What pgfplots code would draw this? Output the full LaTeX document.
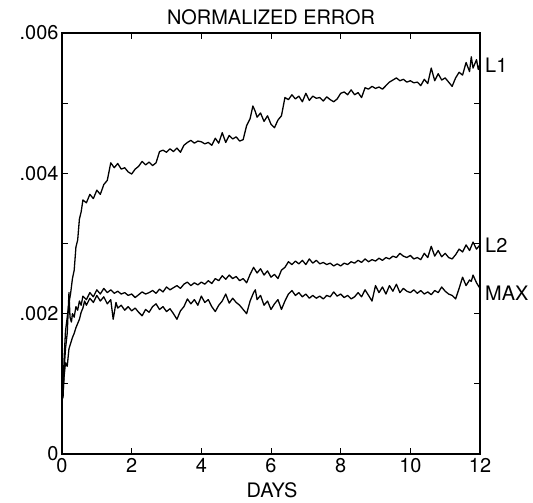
\documentclass[border=0pt]{standalone}
\usepackage{fontspec}
\setmainfont{TeX Gyre Heros}
\usepackage{pgfplots}
\usepackage{pgfplotstable}
\pgfplotsset{compat=1.18}

\pgfplotstableread{
d v
0.00 1.00e-3
0.03 0.90e-3
0.06 1.35e-3
0.10 1.75e-3
0.15 1.95e-3
0.20 2.15e-3
0.25 2.30e-3
0.30 2.50e-3
0.35 2.62e-3
0.40 2.95e-3
0.45 3.05e-3
0.50 3.35e-3
0.55 3.45e-3
0.60 3.62e-3
0.70 3.58e-3
0.80 3.70e-3
0.90 3.64e-3
1.00 3.76e-3
1.10 3.70e-3
1.20 3.84e-3
1.30 3.90e-3
1.40 4.15e-3
1.50 4.08e-3
1.60 4.14e-3
1.70 4.06e-3
1.80 4.08e-3
1.90 4.02e-3
2.00 3.99e-3
2.10 4.06e-3
2.20 4.10e-3
2.30 4.17e-3
2.40 4.12e-3
2.50 4.16e-3
2.60 4.11e-3
2.70 4.15e-3
2.80 4.31e-3
2.90 4.33e-3
3.00 4.30e-3
3.10 4.35e-3
3.20 4.31e-3
3.30 4.36e-3
3.40 4.30e-3
3.50 4.40e-3
3.60 4.44e-3
3.70 4.47e-3
3.80 4.43e-3
3.90 4.46e-3
4.00 4.45e-3
4.10 4.42e-3
4.20 4.44e-3
4.30 4.40e-3
4.40 4.50e-3
4.50 4.43e-3
4.60 4.58e-3
4.70 4.44e-3
4.80 4.54e-3
4.90 4.49e-3
5.00 4.52e-3
5.10 4.46e-3
5.20 4.48e-3
5.30 4.68e-3
5.40 4.78e-3
5.48 4.96e-3
5.55 4.88e-3
5.60 4.80e-3
5.70 4.86e-3
5.80 4.74e-3
5.90 4.82e-3
6.00 4.70e-3
6.10 4.65e-3
6.20 4.76e-3
6.30 4.82e-3
6.40 5.08e-3
6.50 5.05e-3
6.60 5.12e-3
6.70 5.06e-3
6.80 5.10e-3
6.90 5.02e-3
7.00 5.14e-3
7.10 5.04e-3
7.20 5.10e-3
7.30 5.07e-3
7.40 5.08e-3
7.50 5.03e-3
7.60 5.09e-3
7.70 5.05e-3
7.80 5.02e-3
7.90 5.06e-3
8.00 5.14e-3
8.10 5.16e-3
8.20 5.12e-3
8.30 5.19e-3
8.40 5.12e-3
8.50 5.15e-3
8.60 5.08e-3
8.70 5.22e-3
8.80 5.20e-3
8.90 5.24e-3
9.00 5.21e-3
9.10 5.23e-3
9.20 5.20e-3
9.30 5.25e-3
9.40 5.30e-3
9.50 5.33e-3
9.60 5.36e-3
9.70 5.32e-3
9.80 5.34e-3
9.90 5.30e-3
10.00 5.32e-3
10.10 5.29e-3
10.20 5.30e-3
10.30 5.25e-3
10.40 5.34e-3
10.50 5.28e-3
10.60 5.50e-3
10.70 5.32e-3
10.80 5.42e-3
10.90 5.33e-3
11.00 5.36e-3
11.10 5.30e-3
11.20 5.24e-3
11.30 5.36e-3
11.40 5.44e-3
11.50 5.40e-3
11.60 5.58e-3
11.70 5.45e-3
11.75 5.66e-3
11.80 5.50e-3
11.90 5.62e-3
11.95 5.48e-3
12.00 5.56e-3
}\Lone

\pgfplotstableread{
d v
0.00 1.00e-3
0.03 0.80e-3
0.06 1.20e-3
0.10 1.50e-3
0.15 1.72e-3
0.20 2.30e-3
0.23 1.95e-3
0.27 1.88e-3
0.30 2.00e-3
0.35 1.95e-3
0.40 2.10e-3
0.45 2.05e-3
0.50 2.18e-3
0.55 2.12e-3
0.60 2.25e-3
0.70 2.20e-3
0.80 2.30e-3
0.90 2.24e-3
1.00 2.34e-3
1.10 2.28e-3
1.20 2.36e-3
1.30 2.30e-3
1.40 2.34e-3
1.50 2.29e-3
1.60 2.32e-3
1.70 2.28e-3
1.80 2.30e-3
1.90 2.26e-3
2.00 2.28e-3
2.10 2.23e-3
2.20 2.27e-3
2.30 2.31e-3
2.40 2.28e-3
2.50 2.30e-3
2.60 2.33e-3
2.70 2.29e-3
2.80 2.35e-3
2.90 2.31e-3
3.00 2.38e-3
3.10 2.34e-3
3.20 2.37e-3
3.30 2.40e-3
3.40 2.36e-3
3.50 2.42e-3
3.60 2.45e-3
3.70 2.40e-3
3.80 2.44e-3
3.90 2.41e-3
4.00 2.45e-3
4.10 2.42e-3
4.20 2.47e-3
4.30 2.43e-3
4.40 2.50e-3
4.50 2.47e-3
4.60 2.54e-3
4.70 2.49e-3
4.80 2.55e-3
4.90 2.50e-3
5.00 2.53e-3
5.10 2.47e-3
5.20 2.50e-3
5.30 2.44e-3
5.40 2.56e-3
5.50 2.66e-3
5.60 2.58e-3
5.70 2.64e-3
5.80 2.55e-3
5.90 2.61e-3
6.00 2.52e-3
6.10 2.56e-3
6.20 2.50e-3
6.30 2.62e-3
6.40 2.66e-3
6.50 2.74e-3
6.60 2.70e-3
6.70 2.75e-3
6.80 2.71e-3
6.90 2.76e-3
7.00 2.70e-3
7.10 2.78e-3
7.20 2.72e-3
7.30 2.76e-3
7.40 2.71e-3
7.50 2.73e-3
7.60 2.70e-3
7.70 2.72e-3
7.80 2.68e-3
7.90 2.71e-3
8.00 2.68e-3
8.10 2.72e-3
8.20 2.70e-3
8.30 2.74e-3
8.40 2.72e-3
8.50 2.76e-3
8.60 2.73e-3
8.70 2.78e-3
8.80 2.74e-3
8.90 2.77e-3
9.00 2.75e-3
9.10 2.79e-3
9.20 2.76e-3
9.30 2.80e-3
9.40 2.78e-3
9.50 2.82e-3
9.60 2.80e-3
9.70 2.86e-3
9.80 2.82e-3
9.90 2.80e-3
10.00 2.83e-3
10.10 2.78e-3
10.20 2.80e-3
10.30 2.77e-3
10.40 2.86e-3
10.50 2.80e-3
10.60 2.96e-3
10.70 2.82e-3
10.80 2.90e-3
10.90 2.81e-3
11.00 2.86e-3
11.10 2.80e-3
11.20 2.78e-3
11.30 2.84e-3
11.40 2.92e-3
11.50 2.88e-3
11.60 2.98e-3
11.70 2.90e-3
11.80 3.02e-3
11.90 2.92e-3
12.00 2.98e-3
}\Ltwo

\pgfplotstableread{
d v
0.00 1.00e-3
0.03 0.88e-3
0.06 1.10e-3
0.10 1.30e-3
0.15 1.25e-3
0.20 1.50e-3
0.25 1.58e-3
0.30 1.66e-3
0.35 1.72e-3
0.40 1.80e-3
0.45 1.86e-3
0.50 1.92e-3
0.55 2.02e-3
0.60 2.08e-3
0.65 2.18e-3
0.70 2.12e-3
0.80 2.22e-3
0.90 2.16e-3
1.00 2.26e-3
1.10 2.18e-3
1.20 2.24e-3
1.30 2.14e-3
1.40 2.20e-3
1.47 1.92e-3
1.55 2.16e-3
1.60 2.08e-3
1.70 2.12e-3
1.80 2.05e-3
1.90 2.10e-3
2.00 2.04e-3
2.10 2.08e-3
2.20 2.02e-3
2.30 1.97e-3
2.40 2.06e-3
2.50 2.02e-3
2.60 2.10e-3
2.70 2.14e-3
2.80 2.06e-3
2.90 2.10e-3
3.00 2.03e-3
3.10 2.07e-3
3.20 2.00e-3
3.30 1.92e-3
3.40 2.04e-3
3.50 2.10e-3
3.60 2.21e-3
3.70 2.14e-3
3.80 2.20e-3
3.90 2.12e-3
4.00 2.25e-3
4.10 2.16e-3
4.20 2.20e-3
4.30 2.10e-3
4.40 2.03e-3
4.50 2.12e-3
4.60 2.18e-3
4.70 2.28e-3
4.80 2.15e-3
4.90 2.22e-3
5.00 2.16e-3
5.10 2.12e-3
5.20 2.06e-3
5.30 2.00e-3
5.40 2.18e-3
5.50 2.30e-3
5.55 2.34e-3
5.60 2.20e-3
5.70 2.26e-3
5.80 2.12e-3
5.90 2.18e-3
6.00 2.06e-3
6.10 2.14e-3
6.20 2.20e-3
6.30 2.06e-3
6.40 2.18e-3
6.50 2.28e-3
6.60 2.33e-3
6.70 2.26e-3
6.80 2.30e-3
6.90 2.24e-3
7.00 2.28e-3
7.10 2.22e-3
7.20 2.26e-3
7.30 2.22e-3
7.40 2.25e-3
7.50 2.21e-3
7.60 2.26e-3
7.70 2.24e-3
7.80 2.31e-3
7.90 2.25e-3
8.00 2.28e-3
8.10 2.23e-3
8.20 2.26e-3
8.30 2.21e-3
8.40 2.24e-3
8.50 2.30e-3
8.60 2.24e-3
8.70 2.34e-3
8.80 2.26e-3
8.90 2.18e-3
9.00 2.40e-3
9.10 2.30e-3
9.20 2.38e-3
9.30 2.28e-3
9.40 2.40e-3
9.50 2.32e-3
9.60 2.42e-3
9.70 2.30e-3
9.80 2.36e-3
9.90 2.32e-3
10.00 2.30e-3
10.10 2.34e-3
10.20 2.29e-3
10.30 2.33e-3
10.40 2.28e-3
10.50 2.31e-3
10.60 2.27e-3
10.70 2.33e-3
10.80 2.30e-3
10.90 2.38e-3
11.00 2.32e-3
11.10 2.28e-3
11.20 2.26e-3
11.30 2.21e-3
11.40 2.36e-3
11.50 2.52e-3
11.60 2.40e-3
11.70 2.48e-3
11.75 2.46e-3
11.80 2.55e-3
11.90 2.44e-3
12.00 2.36e-3
}\Lmax

\begin{document}
\begin{tikzpicture}
\useasboundingbox (0,0) rectangle (533bp,503bp);
\begin{axis}[
  at={(62bp,49bp)}, anchor=south west,
  scale only axis, width=418bp, height=421bp,
  xmin=0, xmax=12, ymin=0, ymax=0.006,
  xtick={0,2,4,6,8,10,12},
  ytick={0,0.001,0.002,0.003,0.004,0.005,0.006},
  yticklabels={0,,.002,,.004,,.006},
  scaled y ticks=false,
  tick align=inside,
  major tick length=6bp,
  tick style={line width=1pt, black},
  axis line style={line width=1.4pt},
  /pgf/number format/assume math mode=true,
  tick label style={font=\fontsize{20}{23}\selectfont},
  xticklabel style={yshift=-1bp},
  clip=false,
]
\addplot[black, line width=1.3pt, line join=round] table[x=d,y=v] {\Lone};
\addplot[black, line width=1.3pt, line join=round] table[x=d,y=v] {\Ltwo};
\addplot[black, line width=1.3pt, line join=round] table[x=d,y=v] {\Lmax};
\node[anchor=west, font=\fontsize{20}{23}\selectfont, inner sep=0pt] at (axis cs:12,0.00554) {\hspace{5bp}L1};
\node[anchor=west, font=\fontsize{20}{23}\selectfont, inner sep=0pt] at (axis cs:12,0.00298) {\hspace{5bp}L2};
\node[anchor=west, font=\fontsize{20}{23}\selectfont, inner sep=0pt] at (axis cs:12,0.00229) {\hspace{5bp}MAX};
\end{axis}
\node[font=\fontsize{20}{23}\selectfont, inner sep=0pt] at (271bp,486bp) {NORMALIZED ERROR};
\node[font=\fontsize{20}{23}\selectfont, inner sep=0pt] at (272bp,13bp) {DAYS};
\end{tikzpicture}
\end{document}
